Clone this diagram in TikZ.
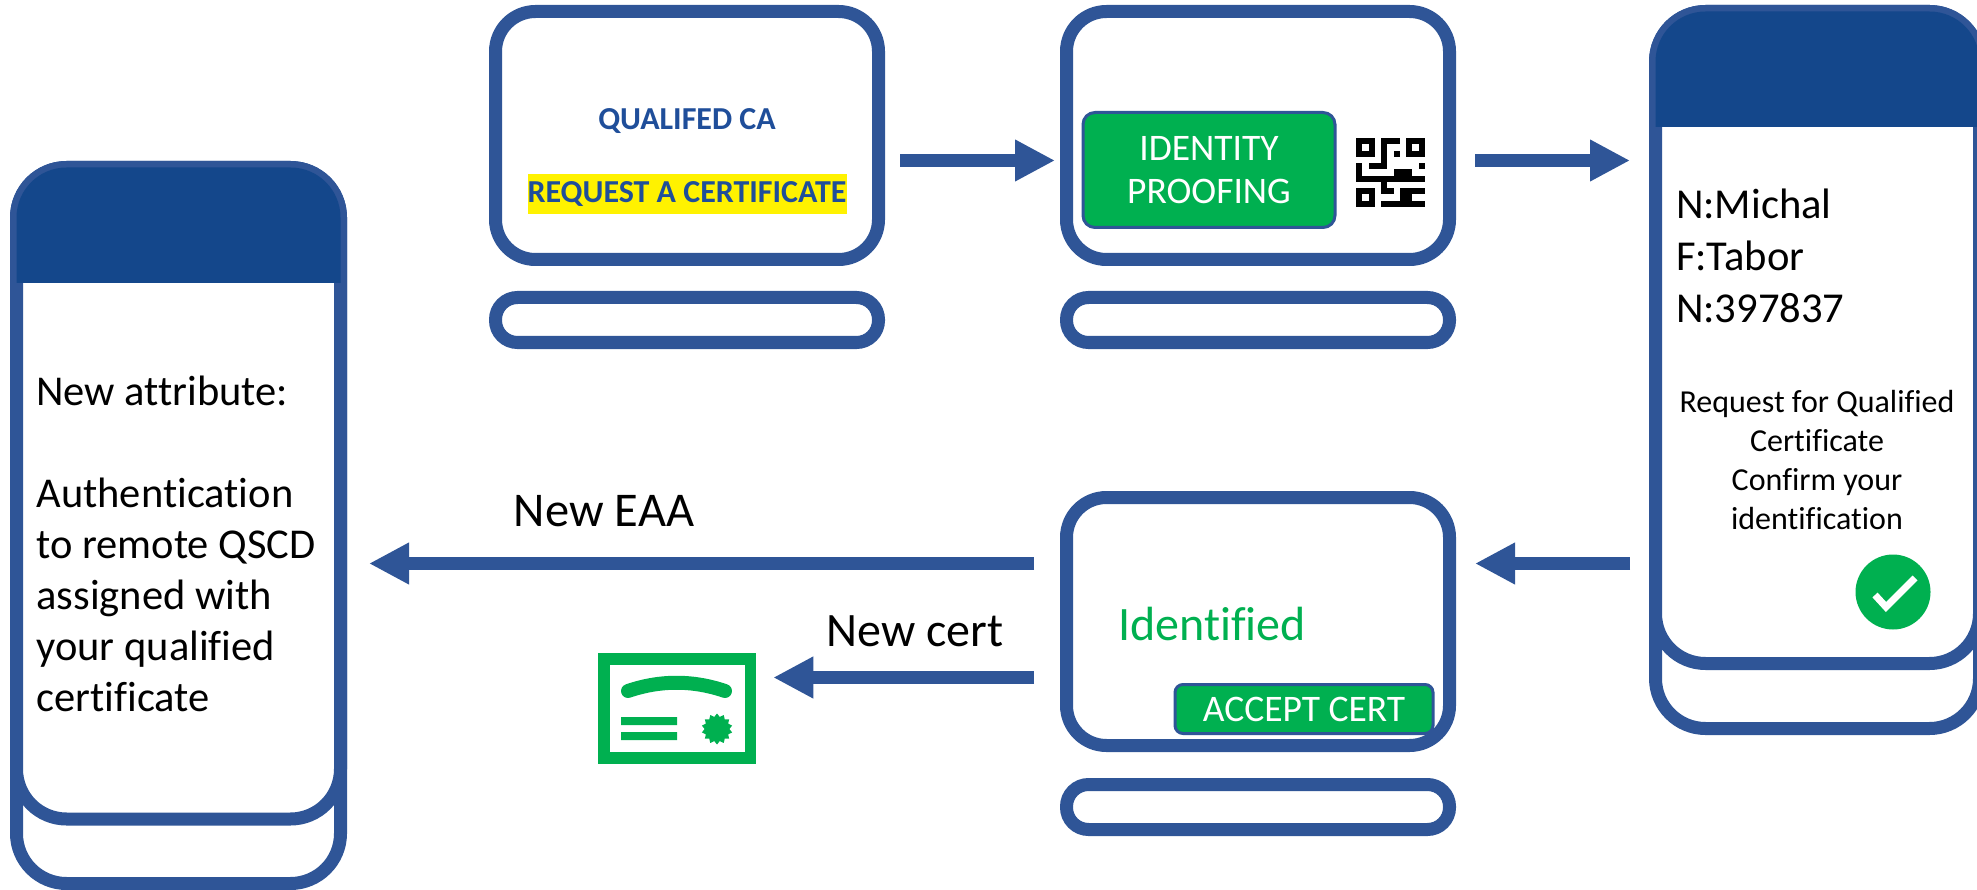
\documentclass[tikz,border=0pt]{standalone}
\usepackage{fontspec}
\setmainfont[Ligatures=NoCommon]{Carlito}
\usetikzlibrary{arrows.meta,shapes.geometric}
\definecolor{lineblue}{HTML}{2F5597}
\definecolor{headblue}{HTML}{14478B}
\definecolor{textblue}{HTML}{1F4E9A}
\definecolor{okgreen}{HTML}{00B050}
\newcommand{\fs}[2]{\fontsize{#1}{#2}\selectfont}
\tikzset{
  x=1pt,y=-1pt,
  frame/.style={rectangle,draw=lineblue,fill=white,line width=13pt,inner sep=0pt,outer sep=0pt},
  phonebody/.style={frame,rounded corners=50pt,minimum width=324pt},
  monitor/.style={frame,rounded corners=40pt,minimum width=383pt,minimum height=248pt},
  monstand/.style={frame,rounded corners=22pt,minimum width=383pt,minimum height=45pt},
  header/.style={fill=headblue},
  btn/.style={rectangle,draw=lineblue,fill=okgreen,line width=3pt,rounded corners=12pt,text=white,inner sep=0pt,outer sep=0pt,align=center},
  flow/.style={draw=lineblue,line width=13pt,-{Triangle[length=40pt,width=39pt]}},
  label/.style={inner sep=0pt,outer sep=0pt,text=black},
}
\begin{document}
\begin{tikzpicture}
\useasboundingbox (0,0) rectangle (1977,890);
% left phone
\node[phonebody,minimum height=716pt] (phoneLback) at (178.5,525.5) {};
\node[phonebody,minimum height=651.5pt] (phoneL) at (178.5,493.25) {};
\fill[header] (16.5,283) [rounded corners=50pt] -- (16.5,167.5) -- (340.5,167.5) [sharp corners] -- (340.5,283) -- cycle;
\node[label,anchor=west,align=left,font=\fs{42.5}{51}] (attr) at (36.5,544) {New attribute:\\[51pt]Authentication\\to remote QSCD\\assigned with\\your qualified\\certificate};
% right phone
\node[phonebody,minimum height=717pt] (phoneRback) at (1817.5,370) {};
\node[phonebody,minimum height=652pt] (phoneR) at (1817.5,337.5) {};
\fill[header] (1655.5,127) [rounded corners=50pt] -- (1655.5,11.5) -- (1979.5,11.5) [sharp corners] -- (1979.5,127) -- cycle;
\node[label,anchor=west,align=left,font=\fs{42.6}{52}] (name) at (1676,256) {N:Michal\\F:Tabor\\N:397837};
\node[label,align=center,font=\fs{32}{38.7}] (req) at (1817,460) {Request for Qualified\\Certificate\\Confirm your\\identification};
\fill[okgreen] (1893,592) circle[radius=37.5];
\draw[white,line width=7pt] (1875,595) -- (1886,607) -- (1915,578);
% monitors
\node[monitor] (mon1) at (687,135.5) {};
\node[monstand] (stand1) at (687,320) {};
\node[monitor] (mon2) at (1258,135.5) {};
\node[monstand] (stand2) at (1258,320) {};
\node[monitor] (mon3) at (1258,621.5) {};
\node[monstand] (stand3) at (1258,807) {};
% monitor 1 text
\node[inner sep=0pt,text=textblue,font=\fs{32}{38}\bfseries] (ca) at (687,121) {QUALIFED CA};
\node[rectangle,fill=yellow,minimum width=319pt,minimum height=40pt,inner sep=0pt,text=textblue,font=\fs{32}{38}\bfseries] (reqcert) at (687,194.5) {REQUEST A CERTIFICATE};
% monitor 2
\node[btn,minimum width=252pt,minimum height=115pt,font=\fs{37.5}{43}] (idp) at (1209,170) {IDENTITY\\PROOFING};
\foreach \a/\b/\c/\d in {0/0/3/1,0/2/3/3,0/0/1/3,2/0/3/3, 8/0/11/1,8/2/11/3,8/0/9/3,10/0/11/3, 0/8/3/9,0/10/3/11,0/8/1/11,2/8/3/11,
  4/0/7/1,4/0/5/5,6/2/7/3,2/4/5/5,10/4/11/5,
  0/4/1/7,0/6/4/7, 6/5/9/6,7/5/8/7,4/6/11/7,4/6/5/9,4/8/6/9,
  7/8/8/11,4/10/8/11,8/8/11/9,8/8/9/11,8/10/11/11}
  \fill[black] ({1356+6.27*\a},{138+6.27*\b}) rectangle ({1356+6.27*\c},{138+6.27*\d});
% monitor 3
\node[label,text=okgreen,font=\fs{48}{56}] (ident) at (1212,624) {Identified};
\node[btn,minimum width=258pt,minimum height=49pt,rounded corners=8pt,font=\fs{37.5}{44}] (accept) at (1304,709) {ACCEPT CERT};
% certificate
\node[rectangle,draw=okgreen,line width=11.5pt,inner sep=0pt,outer sep=0pt,minimum width=146.5pt,minimum height=99pt] (certicon) at (677,708.5) {};
\draw[okgreen,line width=14pt,line cap=round] (628,691) .. controls (660,680) and (693,680) .. (725,691);
\fill[okgreen] (621,717) rectangle (677,725) (621,732) rectangle (677,740);
\node[star,star points=14,star point ratio=1.25,minimum size=31pt,inner sep=0pt,fill=okgreen] (seal) at (717,729) {};
% connectors
\coordinate (r1) at (0,160.5);
\coordinate (r2) at (0,563.5);
\coordinate (r3) at (0,677.5);
\draw[flow,shorten <=21.5pt,shorten >=11.5pt] (mon1.east |- r1) -- (mon2.west |- r1);
\draw[flow,shorten <=25.5pt,shorten >=25.5pt] (mon2.east |- r1) -- (phoneR.west |- r1);
\draw[flow,shorten <=25.5pt,shorten >=25.5pt] (phoneR.west |- r2) -- (mon3.east |- r2);
\draw[flow,shorten <=32.5pt,shorten >=28.5pt] (mon3.west |- r2) -- (phoneL.east |- r2);
\draw[flow,shorten <=32.5pt,shorten >=23pt] (mon3.west |- r3) -- (certicon.east |- r3);
\node[label,font=\fs{48.5}{56}] (eaa) at (604,511) {New EAA};
\node[label,font=\fs{48}{56}] (cert) at (915,631) {New cert};
\end{tikzpicture}
\end{document}
